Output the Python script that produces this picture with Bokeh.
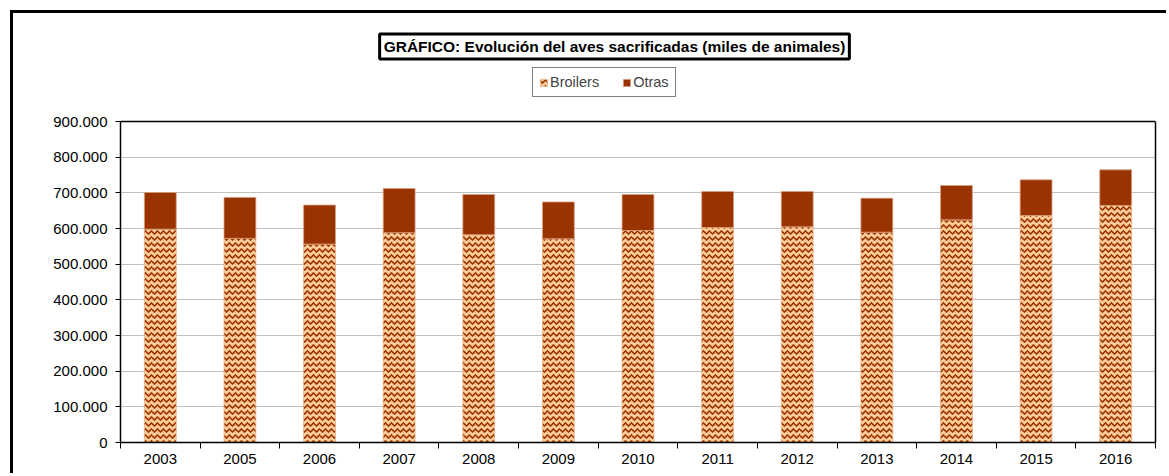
from bokeh.plotting import figure
from bokeh.models import (ColumnDataSource, FixedTicker, Label, Legend, LegendItem,
                          LinearAxis)
from bokeh.embed import file_html
from bokeh.resources import INLINE

# ---- data (miles de animales) ----
years = ["2003", "2005", "2006", "2007", "2008", "2009", "2010",
         "2011", "2012", "2013", "2014", "2015", "2016"]
broilers = [598100, 572300, 556400, 588300, 582400, 571000, 594400,
            602800, 604700, 589700, 624300, 636400, 664500]
otras = [102800, 114900, 109300, 123800, 112900, 103300, 100900,
         100900, 99000, 95300, 96300, 100000, 100000]
y_ticks = [0, 100000, 200000, 300000, 400000, 500000, 600000, 700000, 800000, 900000]
title_text = "GRÁFICO: Evolución del aves sacrificadas (miles de animales)"
series_names = ["Broilers", "Otras"]

FONT = "Liberation Sans"

# layout (pixels)
W, H = 1156, 463
MB_LEFT, MB_RIGHT, MB_BOTTOM = 107, 14, 34
FRAME_H = H - MB_BOTTOM          # frame reaches the canvas top
PLOT_H = 321                     # pixel height of the 0..900.000 plot area
y_top = y_ticks[-1] * FRAME_H / PLOT_H

xs = list(range(len(years)))
src = ColumnDataSource(dict(x=xs, broilers=broilers, otras=otras))

p = figure(width=W, height=H, title=None,
           x_range=(-0.5, len(years) - 0.5), y_range=(0, y_top),
           output_backend="svg", toolbar_location=None,
           min_border_left=MB_LEFT, min_border_right=MB_RIGHT,
           min_border_top=0, min_border_bottom=MB_BOTTOM)
p.styles = {"border-left": "3px solid black", "border-top": "3px solid black",
            "margin-left": "10px", "margin-top": "10px"}

rs = p.vbar_stack(["broilers", "otras"], x="x", width=0.4, source=src,
                  fill_color=["#FFCC99", "#993300"],
                  line_color=["#e8b48a", "#d9a080"], line_width=0.8,
                  hatch_pattern=["horizontal_wave", " "],
                  hatch_color="#993300", hatch_scale=6, hatch_weight=1.6)

# top border of the plot area
p.hspan(y=[y_ticks[-1]], line_color="black", line_width=1.5)

# axes
p.xaxis.ticker = FixedTicker(ticks=xs, minor_ticks=[i - 0.5 for i in range(len(years) + 1)])
p.xaxis.major_label_overrides = {i: y for i, y in zip(xs, years)}
p.xaxis.major_tick_out = 0
p.xaxis.major_tick_in = 0
p.xaxis.minor_tick_out = 6
p.xaxis.minor_tick_in = 0
p.xaxis.minor_tick_line_color = "black"
p.xaxis.major_label_standoff = 5

p.yaxis.ticker = FixedTicker(ticks=y_ticks, minor_ticks=[])
p.yaxis.bounds = (0, y_ticks[-1])
p.yaxis.major_label_overrides = {t: f"{t:,}".replace(",", ".") for t in y_ticks}
p.yaxis.major_tick_out = 5
p.yaxis.major_tick_in = 0
p.yaxis.minor_tick_line_color = None
p.yaxis.major_label_standoff = 8

for ax in (p.xaxis[0], p.yaxis[0]):
    ax.axis_line_color = "black"
    ax.axis_line_width = 1.5
    ax.major_tick_line_color = "black"
    ax.major_label_text_font = FONT
    ax.major_label_text_font_size = "15px"
    ax.major_label_text_color = "black"

right_axis = LinearAxis(ticker=FixedTicker(ticks=[], minor_ticks=[]),
                        bounds=(0, y_ticks[-1]), axis_line_color="black",
                        axis_line_width=1.5, major_label_text_font_size="0px",
                        major_tick_line_color=None, minor_tick_line_color=None)
p.add_layout(right_axis, "right")

p.xgrid.visible = False
p.ygrid.grid_line_color = "#c0c0c0"
p.ygrid.grid_line_width = 1

p.outline_line_color = None
p.background_fill_color = "white"
p.border_fill_color = "white"

# title box (screen units relative to the frame's bottom-left corner)
title = Label(x=494, y=396, x_units="screen", y_units="screen",
              text=title_text, text_align="center", text_baseline="middle",
              text_font=FONT, text_font_size="15.5px", text_font_style="bold",
              text_color="black",
              background_fill_color="white",
              border_line_color="black", border_line_width=3, padding=4)
p.add_layout(title)

legend = Legend(items=[LegendItem(label=series_names[0], renderers=[rs[0]]),
                       LegendItem(label=series_names[1], renderers=[rs[1]])],
                orientation="horizontal", location=(412, 345),
                glyph_width=9, glyph_height=9, label_standoff=2, spacing=23,
                padding=6, margin=0,
                label_text_font=FONT, label_text_font_size="14.5px",
                border_line_color="black", border_line_width=1,
                background_fill_color="white")
p.add_layout(legend, "center")

open("out.html", "w").write(file_html(p, INLINE))
